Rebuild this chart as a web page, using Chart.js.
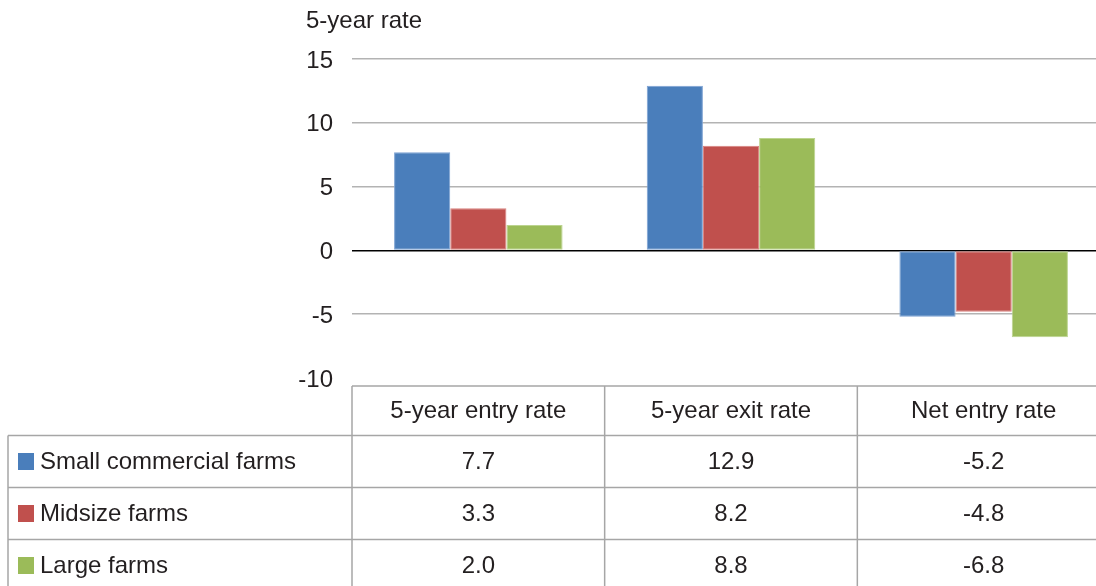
<!DOCTYPE html>
<html>
<head>
<meta charset="utf-8">
<script src="https://cdn.jsdelivr.net/npm/chart.js@4"></script>
<style>
  html, body { margin: 0; padding: 0; background: #fff; overflow: hidden; }
  #wrap { width: 1112px; height: 586px; }
</style>
</head>
<body>
<div id="wrap"><canvas id="myChart" width="1112" height="586"></canvas></div>
<script>
// Data
const categories = ["5-year entry rate", "5-year exit rate", "Net entry rate"];
const seriesNames = ["Small commercial farms", "Midsize farms", "Large farms"];
const smallFarms = [7.7, 12.9, -5.2];
const midsizeFarms = [3.3, 8.2, -4.8];
const largeFarms = [2.0, 8.8, -6.8];
const yTicks = [15, 10, 5, 0, -5, -10];

const colors = ["#4a7ebb", "#c0504d", "#9bbb59"];
const edges = ["#7da2d3", "#d9827f", "#bcd48f"];
const FONT = '"Liberation Sans", Arial, sans-serif';
const TEXT = "#231f20";
const LINE = "#a6a6a6";

// Draws the axis caption and the data table under the plot
const tablePlugin = {
  id: "dataTable",
  afterDraw(chart) {
    const c = chart.ctx;
    const area = chart.chartArea;
    const x = chart.scales.x;
    const half = (x.getPixelForValue(1) - x.getPixelForValue(0)) / 2;
    const top = area.bottom + 8;
    const headH = 49.5;
    const rowH = 52;
    const left = 8;
    const bottom = chart.height + 10;
    const series = [smallFarms, midsizeFarms, largeFarms];
    const rowTop = (r) => top + headH + r * rowH;

    c.save();
    c.font = "24px " + FONT;
    c.fillStyle = TEXT;
    c.textBaseline = "alphabetic";
    c.textAlign = "left";
    c.fillText("5-year rate", 306, 28);

    c.strokeStyle = LINE;
    c.lineWidth = 1.5;
    const right = x.getPixelForValue(categories.length - 1) + half;
    c.beginPath();
    c.moveTo(area.left, top); c.lineTo(right, top);
    for (let r = 0; r < 3; r++) {
      c.moveTo(left, rowTop(r)); c.lineTo(right, rowTop(r));
    }
    c.moveTo(left, rowTop(0)); c.lineTo(left, bottom);
    for (let i = 0; i <= categories.length; i++) {
      const px = x.getPixelForValue(i) - half;
      c.moveTo(px, top); c.lineTo(px, bottom);
    }
    c.stroke();

    c.textBaseline = "middle";
    c.textAlign = "center";
    categories.forEach((cat, i) => {
      c.fillText(cat, x.getPixelForValue(i), top + headH / 2 + 1);
    });
    series.forEach((vals, r) => {
      const cy = rowTop(r) + rowH / 2;
      c.fillStyle = colors[r];
      c.fillRect(18, cy - 8.5, 16, 17);
      c.fillStyle = TEXT;
      c.textAlign = "left";
      c.fillText(seriesNames[r], 40, cy + 1);
      c.textAlign = "center";
      vals.forEach((v, i) => {
        c.fillText(v.toFixed(1), x.getPixelForValue(i), cy + 1);
      });
    });
    c.restore();
  },
};

const ctx = document.getElementById("myChart");

new Chart(ctx, {
  type: "bar",
  data: {
    labels: categories,
    datasets: [smallFarms, midsizeFarms, largeFarms].map((d, i) => ({
      label: seriesNames[i],
      data: d,
      backgroundColor: colors[i],
      borderColor: edges[i],
      borderWidth: 1,
      borderSkipped: false,
      categoryPercentage: 0.667,
      barPercentage: 1,
    })),
  },
  options: {
    responsive: false,
    animation: false,
    devicePixelRatio: 1,
    layout: { padding: { top: 59, bottom: 208, left: 0, right: 2 } },
    plugins: {
      legend: { display: false },
      tooltip: { enabled: false },
    },
    scales: {
      x: { display: false },
      y: {
        min: -10,
        max: 15,
        afterFit(scale) { scale.width = 352; },
        afterBuildTicks(scale) {
          scale.ticks = yTicks.map((v) => ({ value: v }));
        },
        border: { display: false },
        grid: {
          drawTicks: false,
          lineWidth: 1.5,
          color: (c) => (c.tick && c.tick.value === 0 ? "#000000" : c.tick && c.tick.value === -10 ? "rgba(0,0,0,0)" : "#b3b3b3"),
        },
        ticks: {
          padding: 19,
          labelOffset: 2,
          color: TEXT,
          font: { family: FONT, size: 24 },
        },
      },
    },
  },
  plugins: [tablePlugin],
});
</script>
</body>
</html>
